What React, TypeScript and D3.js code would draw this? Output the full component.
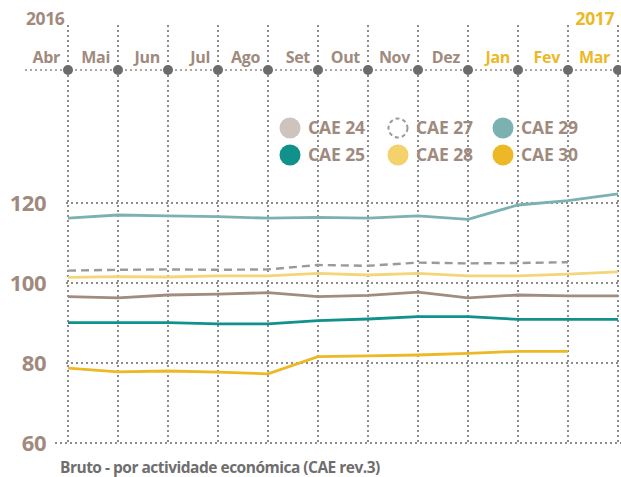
import React from "react";
import * as d3 from "d3";

const width = 621;
const height = 477;

const months = ["Abr", "Mai", "Jun", "Jul", "Ago", "Set", "Out", "Nov", "Dez", "Jan", "Fev", "Mar"];
const yearOf = [2016, 2016, 2016, 2016, 2016, 2016, 2016, 2016, 2016, 2017, 2017, 2017];
const yTicks = [60, 80, 100, 120];

const cae24 = [96.6, 96.3, 97.0, 97.2, 97.6, 96.6, 96.9, 97.7, 96.3, 97.0, 96.8, 96.8];
const cae25 = [90.1, 90.1, 90.1, 89.8, 89.8, 90.6, 91.0, 91.6, 91.6, 90.9, 90.9, 90.9];
const cae27 = [103.1, 103.3, 103.4, 103.3, 103.4, 104.5, 104.3, 105.1, 104.9, 105.0, 105.2];
const cae28 = [101.4, 101.6, 101.5, 101.8, 101.8, 102.4, 102.0, 102.4, 101.8, 101.8, 102.2, 102.8];
const cae29 = [116.2, 117.0, 116.8, 116.6, 116.2, 116.4, 116.2, 116.8, 115.9, 119.5, 120.6, 122.3];
const cae30 = [78.7, 77.8, 78.0, 77.7, 77.3, 81.6, 81.8, 82.0, 82.4, 82.9, 82.9];

const series = [
  { name: "CAE 24", values: cae24, stroke: "#a28c80", legend: "#cfc3bd", dashed: false },
  { name: "CAE 25", values: cae25, stroke: "#11918c", legend: "#11918c", dashed: false },
  { name: "CAE 27", values: cae27, stroke: "#9a9a9a", legend: "none", dashed: true },
  { name: "CAE 28", values: cae28, stroke: "#f5d57a", legend: "#f3d16b", dashed: false },
  { name: "CAE 29", values: cae29, stroke: "#7bb2b1", legend: "#7bb2b1", dashed: false },
  { name: "CAE 30", values: cae30, stroke: "#edb825", legend: "#edb825", dashed: false },
];
// legend layout: columns left-to-right, two rows
const legendOrder = [
  ["CAE 24", "CAE 27", "CAE 29"],
  ["CAE 25", "CAE 28", "CAE 30"],
];

const font = "'Open Sans', sans-serif";
const brown = "#a08a7e";
const gold = "#edb825";
const grid = "#8c8c8c";

export default function App() {
  const x = d3.scalePoint<string>().domain(months).range([68, 618]);
  const y = d3.scaleLinear().domain([60, 120]).range([443, 203]);

  const line = d3
    .line<number>()
    .x((_, i) => x(months[i]) as number)
    .y(d => y(d));

  const legendX = [290, 398, 503];
  const legendY = [128, 155];

  return (
    <svg
      width={width}
      height={height}
      style={{ position: "absolute", left: 0, top: 0, background: "#fff" }}
      fontFamily={font}
      fontWeight="bold"
    >
      {/* year labels */}
      <text x={26} y={25} fontSize={17.5} fill={brown} letterSpacing={-0.4}>2016</text>
      <text x={614} y={25} fontSize={17.5} fill={gold} textAnchor="end" letterSpacing={-0.4}>2017</text>

      {/* vertical dotted gridlines */}
      {months.map(m => (
        <line
          key={m}
          x1={x(m)}
          x2={x(m)}
          y1={25}
          y2={443}
          stroke={grid}
          strokeWidth={2}
          strokeDasharray="2 3"
        />
      ))}

      {/* horizontal gridlines */}
      {yTicks.map(t => (
        <g key={t}>
          <line
            x1={t === 60 ? 55 : 66}
            x2={621}
            y1={y(t)}
            y2={y(t)}
            stroke={grid}
            strokeWidth={2}
            strokeDasharray="2 3"
          />
          <text x={46} y={y(t) + 8} fontSize={22} fill={brown} textAnchor="end" letterSpacing={-0.5}>
            {t}
          </text>
        </g>
      ))}

      {/* top time axis */}
      <line x1={25} x2={621} y1={70} y2={70} stroke="#b3a59c" strokeWidth={2} strokeDasharray="2 3" />
      {months.map((m, i) => (
        <g key={m}>
          <text
            x={(x(m) as number) - 8}
            y={63}
            fontSize={16}
            textAnchor="end"
            letterSpacing={-0.3}
            fill={yearOf[i] === 2017 ? gold : brown}
          >
            {m}
          </text>
          <circle cx={x(m)} cy={70} r={5} fill="#6b6b6b" />
        </g>
      ))}

      {/* legend */}
      {legendOrder.map((row, r) =>
        row.map((name, c) => {
          const s = series.find(d => d.name === name)!;
          return (
            <g key={name} transform={`translate(${legendX[c]},${legendY[r]})`}>
              {s.dashed ? (
                <circle r={9.5} fill="none" stroke="#9a9a9a" strokeWidth={2} strokeDasharray="4 3" />
              ) : (
                <circle r={10.5} fill={s.legend} />
              )}
              <text x={18} y={6} fontSize={17.5} fill={brown} letterSpacing={-0.1}>
                {name}
              </text>
            </g>
          );
        })
      )}

      {/* series lines */}
      {series.map(s => (
        <path
          key={s.name}
          d={line(s.values) as string}
          fill="none"
          stroke={s.stroke}
          strokeWidth={s.dashed ? 2.4 : 2.8}
          strokeDasharray={s.dashed ? "8 5" : undefined}
        />
      ))}

      <text x={60} y={473} fontSize={15.5} fill="#6e6e6e" letterSpacing={-0.5}>
        Bruto - por actividade económica (CAE rev.3)
      </text>
    </svg>
  );
}
